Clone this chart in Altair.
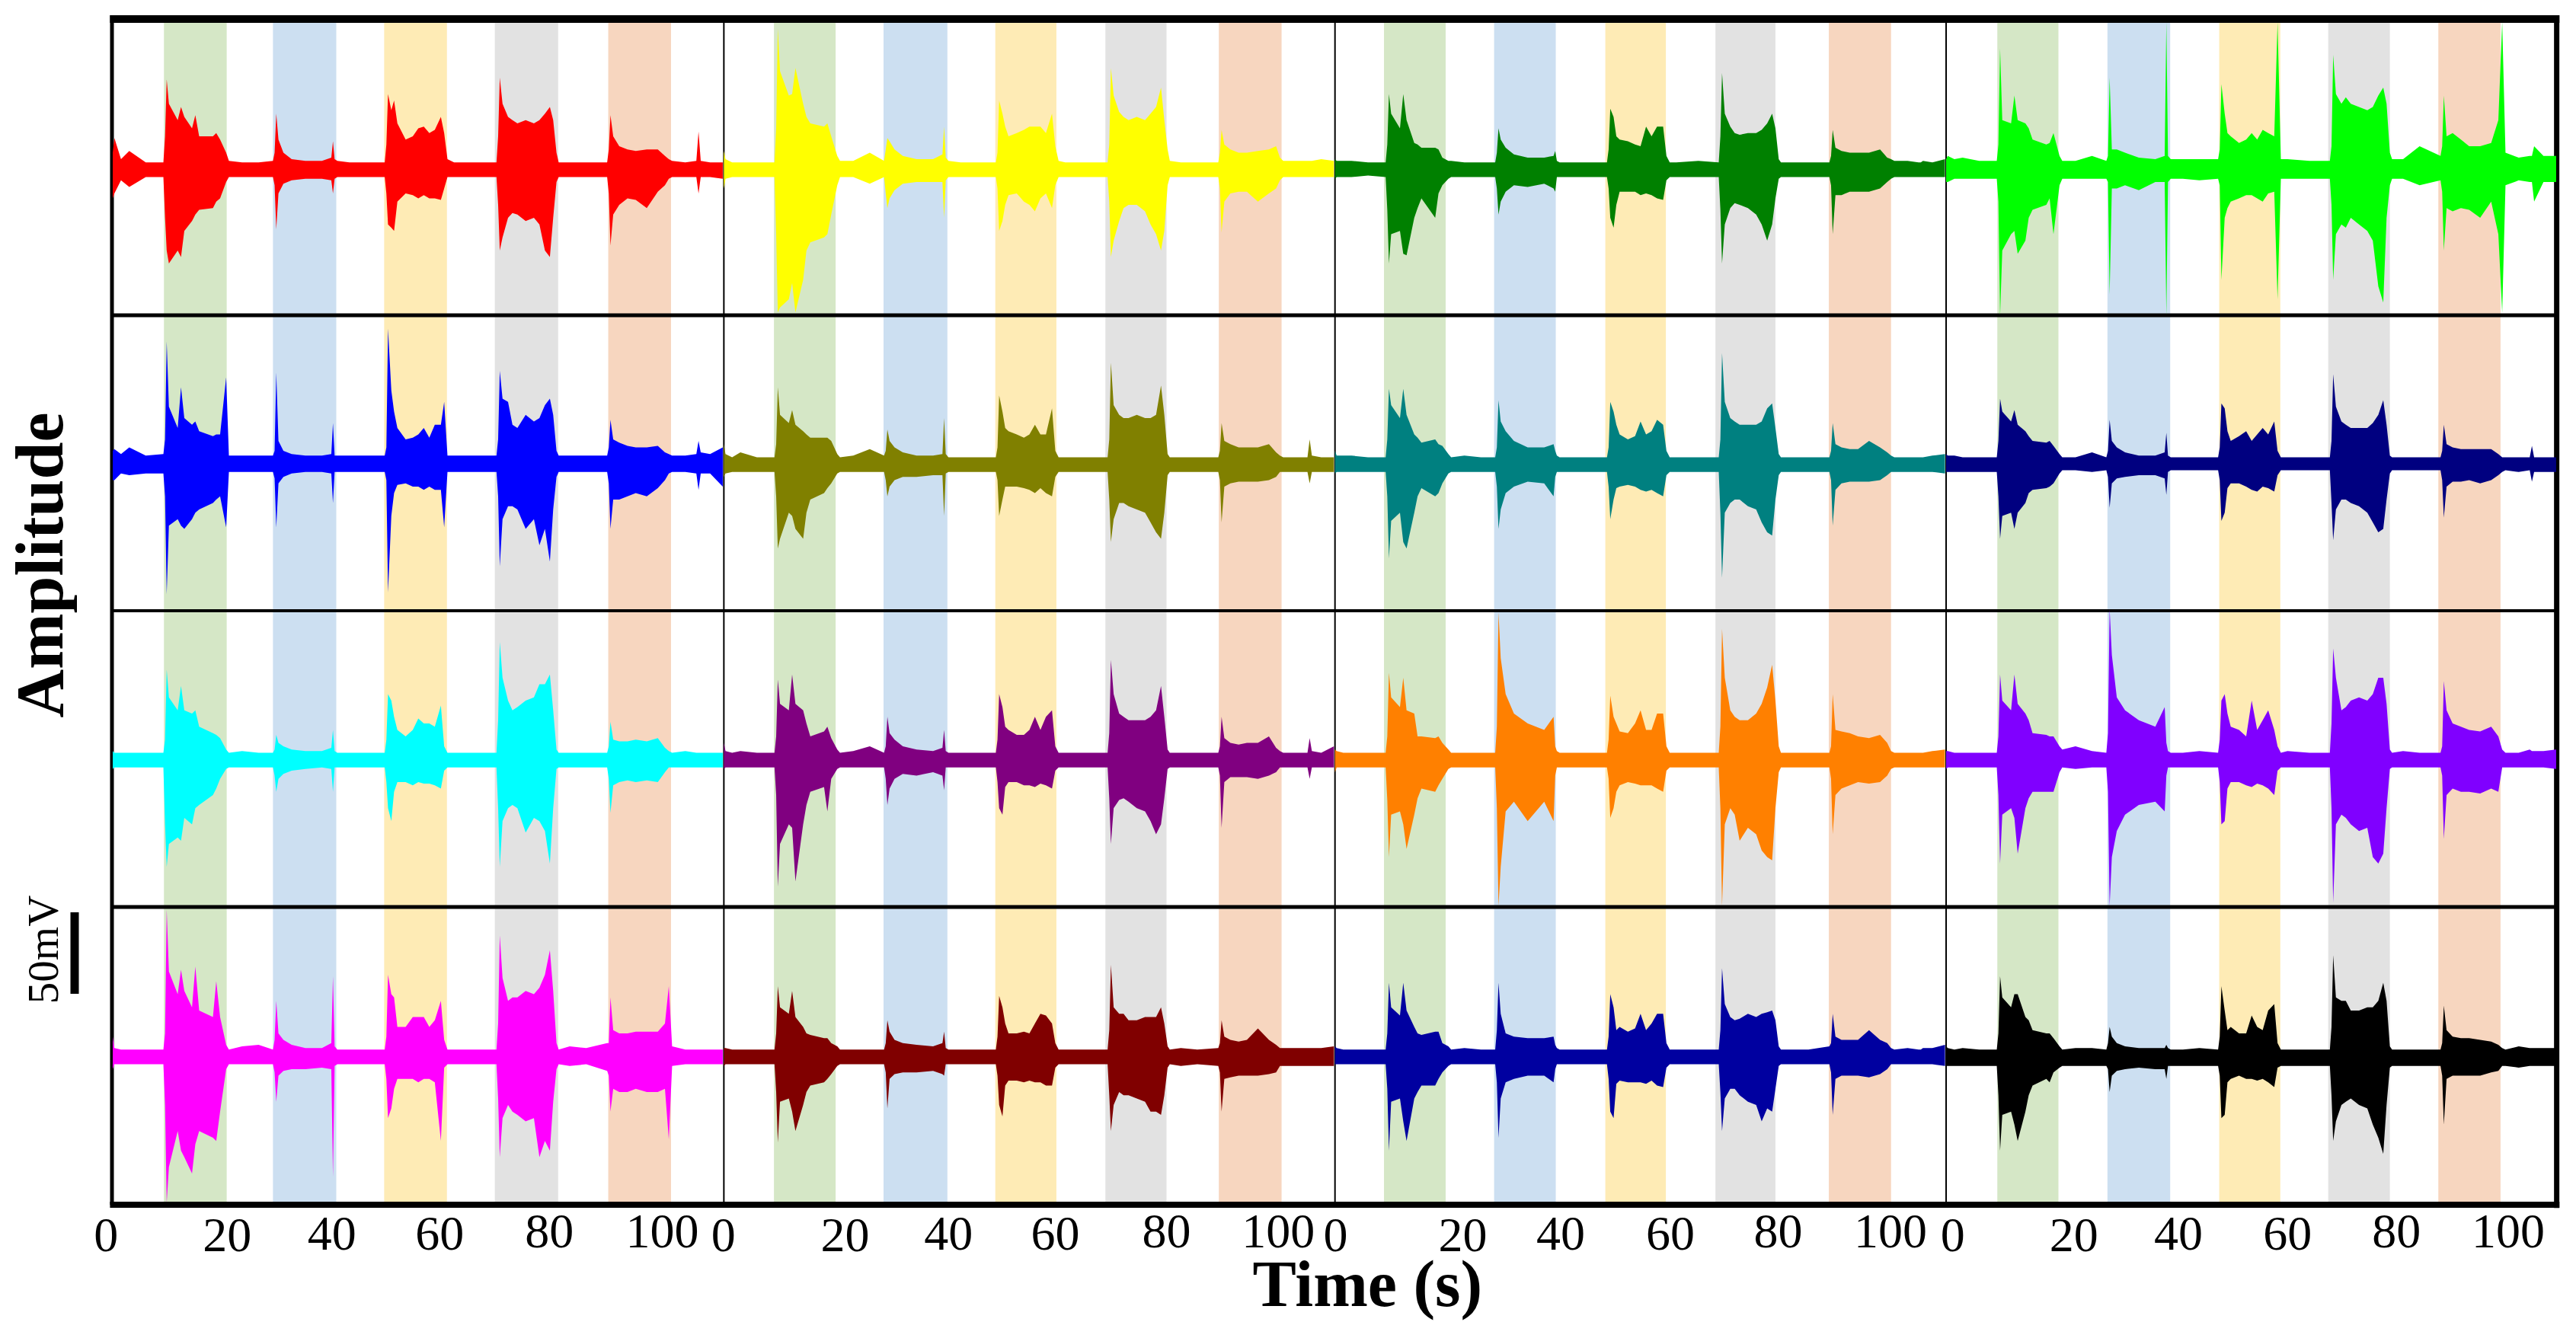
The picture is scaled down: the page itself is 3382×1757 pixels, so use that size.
import altair as alt
import pandas as pd

# Shared time knots inside one panel (seconds), one list per stretch of the trace
T_START = [0, 0.3, 1.5, 3, 6, 9.2]
T_B1 = [9.5, 9.8, 10.2, 11.8, 12.4, 13.0, 14.4, 15, 15.7, 18.2, 18.8, 19.5, 20.6, 21.1]
T_G1 = [23.5, 26.5, 29.1]
T_B2 = [29.4, 29.7, 30.1, 31, 32.5, 35, 38, 39.7, 40.0, 40.3, 40.8]
T_G2 = [43, 46, 49.4]
T_B3 = [49.7, 50, 50.6, 51.1, 51.7, 53.2, 54.5, 55.5, 56.5, 57.5, 58.5, 59.6, 60.2, 60.8]
T_G3 = [62, 66, 69.7]
T_B4 = [70, 70.3, 70.8, 71.8, 72.6, 73.5, 75, 76.5, 77.5, 78.5, 79.4, 80, 80.6, 81]
T_G4 = [83, 86, 89.8]
T_B5 = [90.1, 90.4, 90.9, 92, 93.5, 95, 97, 99, 100.3, 101, 101.6]
T_END = [104, 106, 106.4, 106.8, 108.5, 110.8]
SEGMENTS = [T_START, T_B1, T_G1, T_B2, T_G2, T_B3, T_G3, T_B4, T_G4, T_B5, T_END]

# Envelope heights above (UP) and below (LO) the baseline, in mV
RED_UP = [[10,19,6,11,4,4],[20,55,40,30,38,32,25,33,20,20,22,18,10,5],[4,4,5],[10,34,18,10,6,5,5,7,17,6,5],[4,4,4],[15,46,36,42,28,18,20,25,26,22,24,32,22,6],[4,4,4],[20,56,40,32,30,28,30,28,30,34,38,30,10,4],[4,4,4],[12,33,20,14,12,11,12,12,8,6,5],[4,5,23,5,4,4]]
RED_LO = [[18,15,7,11,5,5],[30,50,58,50,54,38,32,28,25,24,20,18,8,5],[5,5,5],[10,37,15,9,7,6,6,7,15,6,5],[5,5,5],[15,34,36,38,20,15,16,18,16,18,18,19,12,5],[5,5,5],[22,50,42,30,27,28,32,30,34,50,54,30,8,5],[5,5,5],[15,47,28,22,18,19,24,14,10,6,5],[5,5,15,5,5,6]]
YELLOW_UP = [[11,6,4,4,4,4],[25,86,60,45,46,62,40,32,28,26,28,20,8,5],[5,10,5],[12,19,17,12,8,6,6,9,26,7,5],[4,4,4],[10,42,34,26,20,22,24,26,26,26,22,34,14,5],[4,4,4],[15,62,45,35,32,30,32,30,34,38,50,30,12,5],[4,4,4],[10,24,15,12,10,10,11,12,14,7,5],[5,5,5,5,6,5]]
YELLOW_LO = [[12,6,5,5,5,5],[40,88,85,80,70,88,68,50,45,42,40,28,10,5],[5,9,5],[15,24,18,13,9,8,8,8,30,7,5],[5,5,5],[12,38,32,22,16,15,20,22,26,18,15,24,10,5],[5,5,5],[20,54,44,32,24,22,22,26,34,40,50,38,10,5],[5,5,5],[12,39,20,15,14,14,20,15,12,7,5],[5,5,5,5,5,5]]
GREEN_UP = [[6,5,5,5,4,4],[15,46,34,25,46,30,16,15,13,13,12,7,5,5],[4,4,4],[10,25,18,13,9,7,7,8,11,5,4],[4,4,4],[12,37,32,20,18,17,15,14,26,20,26,26,8,4],[4,5,4],[20,59,34,26,22,21,22,22,24,28,34,25,6,4],[4,4,4],[8,24,13,11,10,10,10,12,7,6,5],[5,4,4,5,4,6]]
GREEN_LO = [[6,5,5,5,4,5],[25,58,40,38,52,53,30,24,18,30,15,10,6,5],[5,5,5],[12,28,20,14,10,11,9,12,14,5,5],[5,5,5],[12,30,36,22,14,14,14,16,15,16,18,19,7,5],[5,5,5],[25,58,34,24,21,22,24,28,34,44,34,18,6,5],[5,5,5],[10,40,16,16,14,14,14,12,8,6,5],[5,5,5,5,5,5]]
LIME_UP = [[6,8,6,7,5,5],[15,74,30,28,45,30,28,25,18,15,16,22,8,5],[5,8,5],[8,56,12,12,10,7,6,8,90,8,6],[6,6,6],[12,52,34,22,20,16,18,22,18,24,22,20,90,6],[6,5,5],[14,70,46,40,44,40,38,36,38,45,50,40,10,6],[6,14,8],[14,45,20,22,18,14,14,16,30,90,10],[7,8,8,14,8,8]]
LIME_LO = [[8,8,6,6,6,6],[20,90,50,40,38,52,44,30,25,22,18,40,10,6],[6,6,6],[8,77,12,12,10,13,8,8,90,8,6],[6,7,6],[10,68,30,24,20,18,16,16,18,20,15,14,80,6],[6,6,6],[22,68,40,34,36,30,34,38,44,72,82,30,10,6],[6,10,7],[14,50,24,26,24,25,30,20,40,88,10],[7,8,8,20,8,8]]

BLUE_UP = [[8,9,6,10,5,6],[15,75,35,22,47,28,24,26,20,17,18,18,53,5],[5,5,5],[8,56,14,8,6,5,5,6,25,5,5],[5,5,5],[10,83,45,32,22,15,16,18,22,16,24,24,38,5],[5,5,5],[15,57,40,38,24,22,30,26,28,36,40,30,8,5],[5,5,5],[10,27,15,13,11,10,10,11,7,6,5],[5,6,14,7,6,10]]
BLUE_LO = [[10,10,6,7,6,6],[20,80,38,34,38,40,34,30,28,24,22,20,39,5],[5,5,5],[9,39,12,8,6,5,5,6,24,5,5],[5,5,5],[10,79,32,18,13,12,14,14,16,14,16,16,39,5],[5,5,5],[20,63,34,26,26,28,40,34,50,40,60,28,8,5],[5,5,5],[12,40,22,22,20,18,20,15,10,6,5],[5,6,16,6,6,14]]
OLIVE_UP = [[12,6,4,7,4,4],[12,47,30,25,33,24,20,18,16,16,16,14,6,4],[5,9,5],[8,21,14,10,7,5,5,6,28,6,4],[4,4,4],[10,42,32,22,20,18,16,18,24,18,18,34,8,4],[4,4,4],[15,62,36,30,28,28,30,28,28,30,48,30,6,4],[4,4,4],[8,25,14,12,10,10,10,12,7,5,4],[4,4,15,5,4,4]]
OLIVE_LO = [[8,6,5,5,5,5],[20,52,46,30,32,40,46,30,22,18,15,12,6,5],[5,5,5],[10,20,14,10,8,8,7,7,32,6,5],[5,5,5],[10,32,22,14,14,14,15,16,18,15,18,20,8,5],[5,5,5],[22,48,34,24,24,26,28,30,36,42,46,30,7,5],[5,5,5],[10,36,14,12,11,11,11,10,8,5,5],[5,5,12,5,5,5]]
TEAL_UP = [[8,5,5,5,4,4],[15,46,36,28,46,30,18,16,13,15,12,11,6,4],[5,4,4],[10,39,26,20,14,10,10,12,8,5,4],[4,4,4],[10,38,32,24,18,15,17,26,18,20,27,24,8,4],[4,4,4],[15,68,38,28,26,24,24,24,26,34,37,22,6,4],[4,4,4],[8,25,12,10,9,9,14,10,7,5,4],[4,4,4,4,5,6]]
TEAL_LO = [[6,5,5,5,5,5],[20,58,35,30,48,52,30,20,15,20,18,12,6,5],[5,5,5],[14,40,28,18,14,11,12,20,8,5,5],[5,5,5],[14,34,22,15,14,13,14,16,17,16,18,20,7,5],[5,5,5],[30,70,30,24,22,22,26,28,36,42,44,22,7,5],[5,5,5],[10,38,16,12,11,11,11,10,7,5,5],[5,5,5,5,5,6]]
NAVY_UP = [[6,5,5,4,4,4],[14,40,32,26,33,24,20,17,14,13,14,11,6,4],[4,7,4],[8,27,14,10,7,5,5,7,19,5,4],[4,4,4],[10,37,34,20,14,17,20,14,18,22,18,26,8,4],[4,4,4],[14,55,35,26,24,22,22,22,25,30,39,24,5,4],[4,4,4],[8,24,12,10,9,9,9,9,6,4,4],[4,4,11,4,4,4]]
NAVY_LO = [[5,5,5,5,5,5],[20,46,32,30,40,30,24,18,16,15,14,12,6,4],[4,5,4],[8,27,12,9,8,7,7,9,19,5,4],[4,4,4],[10,35,30,15,12,12,14,16,17,14,15,17,7,4],[4,4,4],[24,47,28,22,22,24,26,30,36,42,40,22,6,4],[4,4,4],[10,33,14,11,11,10,12,10,7,5,4],[5,4,11,5,5,5]]

CYAN_UP = [[5,4,4,4,4,4],[12,55,38,30,45,30,28,30,20,16,15,13,6,4],[5,4,4],[6,15,10,8,6,5,5,7,18,5,4],[4,4,4],[12,40,36,26,18,14,18,25,22,22,20,33,8,4],[4,4,4],[24,72,50,36,30,32,36,38,46,46,52,30,6,4],[4,4,4],[8,23,12,11,11,12,11,13,7,5,4],[5,4,4,4,4,4]]
CYAN_LO = [[6,5,5,5,5,5],[40,66,52,48,50,36,40,30,28,22,18,12,6,5],[5,5,5],[10,20,12,9,7,6,5,6,20,5,5],[5,5,5],[14,30,38,20,14,14,16,14,15,15,16,18,7,5],[5,5,5],[30,66,38,30,28,30,45,36,38,44,64,30,6,5],[5,5,5],[12,33,16,14,13,14,13,14,8,5,5],[5,5,5,5,5,5]]
PURPLE_UP = [[10,5,4,5,4,4],[14,49,34,30,52,34,30,22,14,17,20,13,6,4],[5,8,4],[8,26,16,12,8,6,5,7,18,5,4],[4,4,4],[12,40,32,20,18,15,15,18,26,18,26,30,8,4],[4,4,4],[16,61,40,28,26,24,24,24,26,30,45,26,6,4],[4,4,4],[8,26,13,10,9,10,10,14,7,5,4],[4,4,13,5,4,8]]
PURPLE_LO = [[6,5,5,5,5,5],[22,78,52,40,42,75,40,28,20,17,32,12,6,5],[5,5,5],[12,28,18,12,9,10,8,10,19,5,5],[5,5,5],[14,30,34,17,14,14,16,16,17,15,16,18,7,5],[5,5,5],[24,52,30,25,24,26,30,32,38,46,40,24,6,5],[5,5,5],[10,42,14,11,11,11,12,10,8,5,5],[5,5,12,5,5,5]]
ORANGE_UP = [[6,5,4,4,4,4],[14,53,38,32,50,30,28,14,14,13,14,10,6,4],[4,4,4],[20,90,62,40,28,22,18,26,8,5,4],[4,4,4],[12,39,26,22,17,16,22,30,18,18,28,28,8,4],[4,4,4],[20,80,50,30,26,24,24,28,34,44,58,36,8,4],[4,4,4],[8,40,18,17,16,14,13,15,10,5,4],[4,4,4,4,5,6]]
ORANGE_LO = [[8,5,5,5,5,5],[25,60,34,32,40,55,34,24,18,20,16,12,6,5],[5,5,5],[30,90,66,32,26,38,26,38,10,5,5],[5,5,5],[12,36,30,20,16,14,15,16,16,16,18,20,7,5],[5,5,5],[30,90,40,30,34,50,42,46,56,60,62,30,8,5],[5,5,5],[12,46,22,18,16,14,15,14,10,6,5],[5,5,5,5,5,5]]
VIOLET_UP = [[5,5,4,4,4,4],[14,52,36,30,52,34,28,24,16,15,14,14,8,6],[8,5,4],[16,92,64,38,30,24,20,32,10,5,4],[4,5,4],[12,36,40,28,20,18,14,36,18,24,30,18,8,4],[5,4,4],[22,68,50,30,32,36,38,36,40,50,50,34,6,4],[5,4,4],[8,48,30,22,20,18,17,20,14,6,4],[4,6,5,5,5,6]]
VIOLET_LO = [[6,5,5,5,5,5],[22,64,34,30,36,58,30,24,20,20,20,20,8,5],[6,5,5],[20,90,60,44,34,28,26,32,10,5,5],[5,5,5],[14,40,38,18,14,14,16,17,15,16,18,22,7,5],[5,5,5],[30,88,40,34,36,40,44,42,60,64,58,30,6,5],[5,5,5],[10,49,22,18,20,20,21,18,20,5,5],[5,5,5,5,5,6]]

MAGENTA_UP = [[12,5,4,4,4,4],[14,90,52,38,53,40,30,55,28,24,46,24,7,4],[6,7,4],[10,34,14,10,7,5,5,8,49,6,4],[4,4,4],[12,50,38,36,18,18,24,24,24,18,22,34,10,4],[4,4,4],[20,74,48,34,36,36,40,38,42,50,65,40,8,4],[6,5,8],[8,36,16,14,14,15,15,15,20,43,6],[4,4,4,4,4,4]]
MAGENTA_LO = [[8,5,5,5,5,5],[30,90,68,46,58,62,72,54,46,50,52,34,8,5],[5,5,5],[10,28,12,9,8,8,7,8,74,6,5],[5,5,5],[14,38,32,20,14,14,14,16,14,14,16,52,7,5],[5,5,5],[26,62,38,30,34,36,40,38,62,52,58,28,8,5],[6,5,9],[12,34,20,22,22,20,22,22,20,51,6],[5,5,5,5,5,5]]
MAROON_UP = [[5,5,4,4,4,4],[14,43,30,26,40,24,18,14,13,11,11,8,6,4],[4,4,4],[8,22,15,10,8,7,6,8,15,5,4],[4,4,4],[12,37,30,20,14,14,15,14,20,26,25,20,8,4],[4,4,4],[16,56,30,26,26,22,22,24,24,24,30,20,6,4],[5,4,5],[8,22,12,10,9,10,17,10,7,5,5],[5,5,5,5,5,6]]
MAROON_LO = [[6,5,5,5,5,5],[22,53,28,26,34,46,30,22,18,16,14,11,6,5],[5,5,5],[10,32,14,11,10,10,9,11,12,5,5],[5,5,5],[12,30,37,18,15,15,16,15,16,16,18,18,7,5],[5,5,5],[24,46,30,22,24,24,26,28,34,34,36,24,7,5],[6,5,6],[10,34,14,13,12,12,12,11,10,6,6],[6,6,6,6,6,6]]
DKBLUE_UP = [[6,5,4,4,4,4],[14,45,30,25,45,28,18,14,13,15,15,8,6,4],[5,4,4],[16,45,26,14,12,11,11,12,7,5,4],[4,4,4],[12,38,30,16,18,15,17,26,16,20,26,26,8,4],[4,4,4],[16,54,32,24,22,23,26,24,26,27,28,22,6,4],[4,4,6],[8,26,12,10,10,10,16,10,8,5,4],[5,4,4,5,5,7]]
DKBLUE_LO = [[5,5,5,5,5,5],[20,58,28,26,40,52,26,22,18,18,14,10,6,5],[5,5,5],[16,50,26,16,14,12,12,16,8,5,5],[5,5,5],[14,34,38,17,15,16,16,16,17,15,18,19,7,5],[5,5,5],[22,46,26,20,20,24,28,30,40,32,34,20,6,5],[5,5,5],[10,36,14,12,12,12,13,11,8,5,5],[5,5,5,5,5,6]]
BLACK_UP = [[6,5,4,5,4,4],[14,49,36,30,38,38,24,22,16,14,14,11,6,4],[5,5,4],[8,18,12,8,6,5,5,5,7,5,4],[4,5,4],[12,43,28,16,18,14,14,25,18,16,28,32,8,4],[4,4,4],[18,62,36,34,34,28,28,30,30,34,45,34,6,4],[4,4,4],[8,31,16,12,11,11,10,9,7,5,4],[6,5,5,5,5,5]]
BLACK_LO = [[6,6,6,6,6,6],[24,58,36,34,42,52,34,24,18,14,16,10,7,6],[6,6,6],[8,22,12,9,8,7,8,8,14,6,6],[6,6,6],[12,38,36,16,14,12,14,14,15,14,16,19,7,6],[6,6,6],[24,52,40,30,28,26,30,32,42,50,60,30,7,6],[6,6,6],[12,42,14,12,12,12,12,10,9,6,6],[7,6,6,6,6,6]]

PANELS = [
    ("#FF0000", RED_UP, RED_LO), ("#FFFF00", YELLOW_UP, YELLOW_LO), ("#008000", GREEN_UP, GREEN_LO), ("#00FF00", LIME_UP, LIME_LO),
    ("#0000FF", BLUE_UP, BLUE_LO), ("#808000", OLIVE_UP, OLIVE_LO), ("#008080", TEAL_UP, TEAL_LO), ("#000080", NAVY_UP, NAVY_LO),
    ("#00FFFF", CYAN_UP, CYAN_LO), ("#800080", PURPLE_UP, PURPLE_LO), ("#FF8000", ORANGE_UP, ORANGE_LO), ("#8000FF", VIOLET_UP, VIOLET_LO),
    ("#FF00FF", MAGENTA_UP, MAGENTA_LO), ("#800000", MAROON_UP, MAROON_LO), ("#0000A0", DKBLUE_UP, DKBLUE_LO), ("#000000", BLACK_UP, BLACK_LO),
]

ROW_BASE_MV = [713.6, 532.7, 351.4, 169.2]   # vertical offset of each row's baseline
PANEL_SPAN_S = 111                           # seconds per panel
TOP_MV, BOTTOM_MV = 804, 79

# Stimulus bands per column (seconds)
BAND_COLORS = ["#D5E7C6", "#CCDFF1", "#FEEBB5", "#E2E2E2", "#F7D6BF"]
BAND_START = [[9.3, 29.1, 49.3, 69.4, 90.0], [9.1, 29.0, 49.3, 69.3, 89.9], [8.9, 28.9, 49.1, 69.1, 89.7], [9.3, 29.3, 49.6, 69.4, 89.4]]
BAND_END = [[20.7, 40.6, 60.7, 80.9, 101.4], [20.3, 40.6, 60.4, 80.4, 101.3], [20.1, 40.1, 60.1, 80.0, 101.0], [20.4, 40.7, 60.7, 80.6, 100.7]]

# Tick labels: text, where the label sits in each panel (seconds), and its height
TICK_TEXT = ["0", "20", "40", "60", "80", "100"]
TICK_POS = [[-1.2, 20.8, 39.8, 59.4, 79.3, 99.8], [-0.1, 22.0, 40.8, 60.2, 80.4, 100.7], [0.1, 23.2, 41.0, 60.9, 80.5, 100.9], [1.2, 23.2, 42.2, 62.0, 81.8, 102.1]]
TICK_Y = [49.5, 49.5, 50.5, 50.5, 51.9, 51.9]

trace_rows = []
T_ALL = [t for seg in SEGMENTS for t in seg]
for i, (color, up, lo) in enumerate(PANELS):
    for k, seg in enumerate(SEGMENTS):
        if len(up[k]) != len(seg) or len(lo[k]) != len(seg):
            raise ValueError(f"panel {i} seg {k}: {len(up[k])} {len(lo[k])} vs {len(seg)}")
    r, c = divmod(i, 4)
    ups = [v for s in up for v in s]
    los = [v for s in lo for v in s]
    for t, u, l in zip(T_ALL, ups, los):
        trace_rows.append({"x": c * PANEL_SPAN_S + t, "ytop": ROW_BASE_MV[r] + u, "ybot": ROW_BASE_MV[r] - l, "color": color, "panel": i})
traces = pd.DataFrame(trace_rows)

band_rows = []
for c in range(4):
    for j in range(5):
        band_rows.append({"x": c * PANEL_SPAN_S + BAND_START[c][j], "x2": c * PANEL_SPAN_S + BAND_END[c][j],
                          "y": BOTTOM_MV, "y2": TOP_MV, "color": BAND_COLORS[j]})
bands = pd.DataFrame(band_rows)

tick_rows = []
for c in range(4):
    for j, txt in enumerate(TICK_TEXT):
        tick_rows.append({"x": c * PANEL_SPAN_S + TICK_POS[c][j], "y": TICK_Y[j], "t": txt})
ticks = pd.DataFrame(tick_rows)

# Frame and separators
frame = pd.DataFrame([
    {"x": -0.14, "x2": -0.14, "y": 78, "y2": 808, "w": 5},
    {"x": 443.9, "x2": 443.9, "y": 76, "y2": 808, "w": 7},
    {"x": -0.5, "x2": 444.4, "y": 805.6, "y2": 805.6, "w": 10},
    {"x": -0.5, "x2": 444.4, "y": 78, "y2": 78, "w": 8},
    {"x": 0, "x2": 444, "y": 623.8, "y2": 623.8, "w": 5},
    {"x": 0, "x2": 444, "y": 442.5, "y2": 442.5, "w": 4},
    {"x": 0, "x2": 444, "y": 260.7, "y2": 260.7, "w": 5},
    {"x": 111, "x2": 111, "y": 78, "y2": 805, "w": 2},
    {"x": 222, "x2": 222, "y": 78, "y2": 805, "w": 2},
    {"x": 333, "x2": 333, "y": 78, "y2": 805, "w": 2},
])

xs = alt.Scale(domain=[-19.37, 446.3], nice=False, zero=False)
ys = alt.Scale(domain=[0, 813.55], nice=False, zero=False)
X = alt.X("x:Q", scale=xs, axis=None)
Y = alt.Y("y:Q", scale=ys, axis=None)

band_layer = alt.Chart(bands).mark_rect(opacity=1).encode(
    x=X, x2="x2:Q", y=Y, y2="y2:Q", color=alt.Color("color:N", scale=None))
frame_layer = alt.Chart(frame).mark_rule(color="#000000").encode(
    x=X, x2="x2:Q", y=Y, y2="y2:Q", strokeWidth=alt.StrokeWidth("w:Q", scale=None))
trace_layer = alt.Chart(traces).mark_area(interpolate="linear", orient="vertical").encode(
    x=X, y=alt.Y("ytop:Q", scale=ys, axis=None, stack=None), y2=alt.Y2("ybot:Q"),
    detail="panel:N", fill=alt.Fill("color:N", scale=None))
tick_layer = alt.Chart(ticks).mark_text(font="Liberation Serif", fontSize=64, baseline="alphabetic", align="center", color="#000000").encode(
    x=X, y=Y, text="t:N")

def label(text, x, y, **kw):
    return alt.Chart(pd.DataFrame([{"x": x, "y": y, "t": text}])).mark_text(
        font="Liberation Serif", baseline="alphabetic", align="center", color="#000000", **kw
    ).encode(x=X, y=Y, text="t:N")

title_x = label("Time (s)", 227.9, 15.9, fontSize=86, fontWeight="bold")
title_y = label("Amplitude", -9.13, 470.6, fontSize=88, fontWeight="bold", angle=270)
scale_text = label("50mV", -9.96, 234.6, fontSize=57, angle=270)
SCALE_BAR_MV = 50
scale_bar = alt.Chart(pd.DataFrame([{"x": -6.92, "y": 207.5, "y2": 207.5 + SCALE_BAR_MV}])).mark_rule(
    color="#000000", strokeWidth=11).encode(x=X, y=Y, y2="y2:Q")

chart = alt.layer(band_layer, frame_layer, trace_layer, tick_layer, title_x, title_y, scale_text, scale_bar).properties(
    width=3366, height=1741, padding=0, autosize=alt.AutoSizeParams(type="none")
).configure_view(stroke=None)

chart.save("out.html", embed_options={"renderer": "svg", "actions": False})
